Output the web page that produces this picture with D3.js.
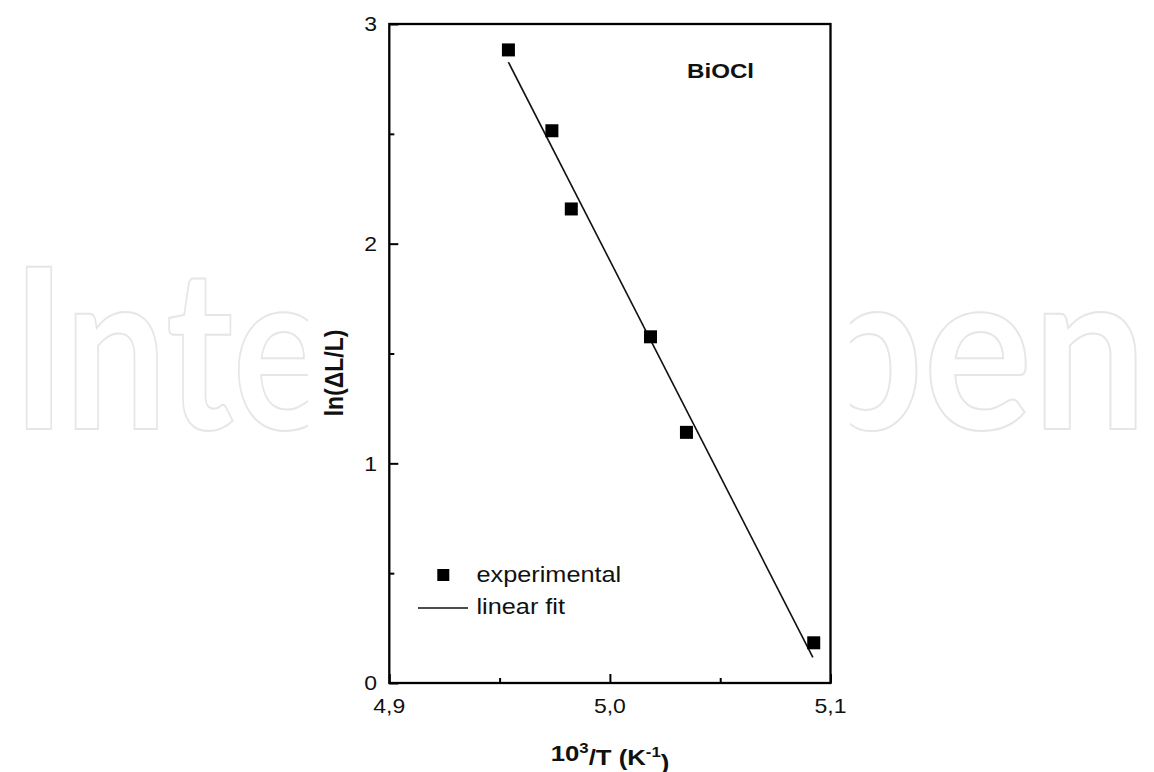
<!DOCTYPE html>
<html>
<head>
<meta charset="utf-8">
<script src="https://cdn.jsdelivr.net/npm/d3@7"></script>
<style>
  html, body { margin: 0; padding: 0; background: #fff; }
  svg { display: block; }
  text { font-family: "Liberation Sans", Arial, sans-serif; fill: #111; }
</style>
</head>
<body>
<svg id="chart" width="1154" height="772"></svg>
<script>
// ---- data ----
const invT = [4.954, 4.9737, 4.9825, 5.0184, 5.0347, 5.0924];   // 10^3/T (K^-1)
const lnDL = [2.882, 2.514, 2.158, 1.576, 1.141, 0.183];        // ln(ΔL/L)
const fitX = [4.954, 5.092];
const fitY = [2.826, 0.117];
const xTicks = [4.9, 5.0, 5.1];
const xTickLabels = ["4,9", "5,0", "5,1"];
const xMinor = [4.95, 5.05];
const yTicks = [0, 1, 2, 3];
const yTickLabels = ["0", "1", "2", "3"];
const yMinor = [0.5, 1.5, 2.5];
const legendLabels = ["experimental", "linear fit"];
const sampleLabel = "BiOCl";

// ---- layout ----
const svg = d3.select("#chart");
const X0 = 389.3, X1 = 830.5, Y0 = 683, Y1 = 24;
const x = d3.scaleLinear().domain([4.9, 5.1]).range([X0, X1]);
const y = d3.scaleLinear().domain([0, 3]).range([Y0, Y1]);
const SX = 1.15; // horizontal stretch of the reference's text

// watermark (outlined letters, partly hidden behind the plot)
const wm = [["Inte", 12, 318], ["pen", 808, 339]];
wm.forEach(([t, x0, len]) => {
  svg.append("text")
    .attr("x", x0).attr("y", 429)
    .attr("textLength", len).attr("lengthAdjust", "spacingAndGlyphs")
    .style("font-family", "Lato, 'Open Sans', sans-serif")
    .style("font-weight", 700)
    .style("font-size", "224px")
    .style("fill", "#fff")
    .style("stroke", "#e6e6e6")
    .style("stroke-width", 2)
    .text(t);
});
// white area covering watermark behind plot
svg.append("rect").attr("x", 308).attr("y", 0).attr("width", 542).attr("height", 772).attr("fill", "#fff");

// axes ticks (inward)
const gx = svg.append("g").attr("transform", `translate(0,${Y0})`)
  .call(d3.axisBottom(x).tickValues(xTicks).tickSize(-9).tickFormat(""));
const gxm = svg.append("g").attr("transform", `translate(0,${Y0})`)
  .call(d3.axisBottom(x).tickValues(xMinor).tickSize(-5).tickFormat(""));
const gy = svg.append("g").attr("transform", `translate(${X0},0)`)
  .call(d3.axisLeft(y).tickValues(yTicks).tickSize(-9).tickFormat(""));
const gym = svg.append("g").attr("transform", `translate(${X0},0)`)
  .call(d3.axisLeft(y).tickValues(yMinor).tickSize(-5).tickFormat(""));
[gx, gxm, gy, gym].forEach(g => {
  g.select(".domain").remove();
  g.selectAll("line").attr("stroke", "#000").attr("stroke-width", 2);
});

// frame
svg.append("rect")
  .attr("x", X0).attr("y", Y1).attr("width", X1 - X0).attr("height", Y0 - Y1)
  .attr("fill", "none").attr("stroke", "#000").attr("stroke-width", 2.3);

// tick labels
svg.append("g").selectAll("text").data(xTicks).join("text")
  .attr("transform", d => `translate(${x(d)},713) scale(${SX},1)`)
  .attr("text-anchor", "middle")
  .style("font-size", "20px")
  .text((d, i) => xTickLabels[i]);
svg.append("g").selectAll("text").data(yTicks).join("text")
  .attr("transform", d => `translate(377,${y(d)}) scale(${SX},1)`)
  .attr("text-anchor", "end")
  .attr("dy", "0.36em")
  .style("font-size", "20px")
  .text((d, i) => yTickLabels[i]);

// axis titles
const xt = svg.append("text")
  .attr("transform", `translate(610,761) scale(${SX - 0.03},1)`)
  .attr("text-anchor", "middle")
  .style("font-size", "23px").style("font-weight", "bold");
xt.append("tspan").text("10");
xt.append("tspan").attr("dy", "-0.55em").style("font-size", "15px").text("3");
xt.append("tspan").attr("dy", "0.55em").text("/T (K");
xt.append("tspan").attr("dy", "-0.55em").style("font-size", "15px").text("-1");
xt.append("tspan").attr("dy", "0.55em").text(")");

svg.append("text")
  .attr("transform", `translate(343,373) rotate(-90) scale(1,${SX})`)
  .attr("text-anchor", "middle")
  .style("font-size", "23px").style("font-weight", "bold")
  .text("ln(ΔL/L)");

// sample label
svg.append("text")
  .attr("transform", `translate(687,78) scale(${SX},1)`)
  .style("font-size", "21px").style("font-weight", "bold")
  .text(sampleLabel);

// fit line
const fitData = fitX.map((v, i) => [v, fitY[i]]);
svg.append("path")
  .datum(fitData)
  .attr("fill", "none").attr("stroke", "#111").attr("stroke-width", 1.6)
  .attr("d", d3.line().x(d => x(d[0])).y(d => y(d[1])));

// points
const S = 13;
svg.append("g").selectAll("rect").data(invT.map((v, i) => [v, lnDL[i]])).join("rect")
  .attr("x", d => x(d[0]) - S / 2).attr("y", d => y(d[1]) - S / 2)
  .attr("width", S).attr("height", S).attr("fill", "#000");

// legend
const lg = svg.append("g");
lg.append("rect").attr("x", 443.3 - 6).attr("y", 575 - 6).attr("width", 12).attr("height", 12).attr("fill", "#000");
lg.append("text").attr("transform", `translate(476.5,582) scale(${SX},1)`)
  .style("font-size", "22px").text(legendLabels[0]);
lg.append("line").attr("x1", 418).attr("x2", 468).attr("y1", 608).attr("y2", 608)
  .attr("stroke", "#111").attr("stroke-width", 1.6);
lg.append("text").attr("transform", `translate(476.5,614) scale(${SX},1)`)
  .style("font-size", "22px").text(legendLabels[1]);
</script>
</body>
</html>
